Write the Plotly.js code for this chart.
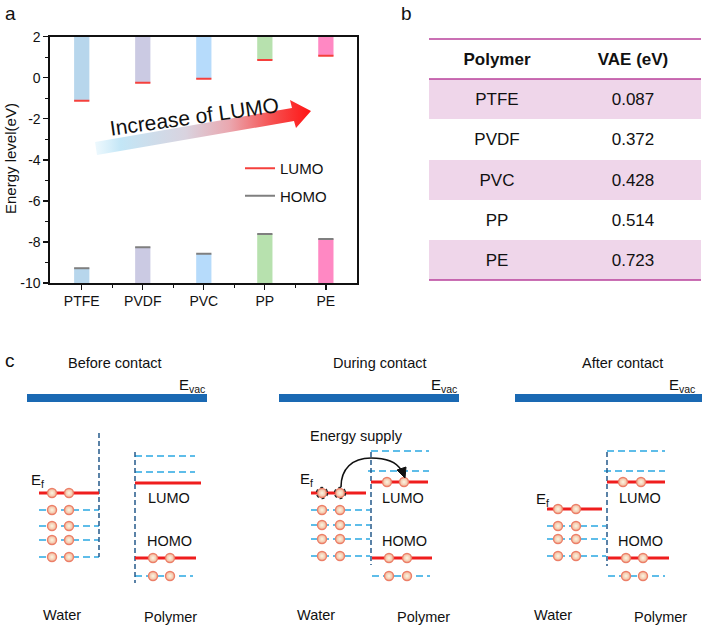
<!DOCTYPE html>
<html><head><meta charset="utf-8">
<script src="https://cdn.plot.ly/plotly-3.0.1.min.js"></script>
<style>html,body{margin:0;padding:0;background:#fff}#chart{width:702px;height:627px}</style>
</head><body><div id="chart"></div>
<script>
// ---------- DATA ----------
const categories = ['PTFE', 'PVDF', 'PVC', 'PP', 'PE'];
const lumo = [-1.12, -0.24, -0.05, 0.86, 1.07];
const homo = [-9.28, -8.26, -8.57, -7.61, -7.86];
const barColors = ['#b7d6ec', '#cbcae3', '#b6dbfb', '#b7e1ae', '#ff88c3'];
const yTickVals = [-10, -8, -6, -4, -2, 0, 2];
const yTickText = ['-10', '-8', '-6', '-4', '-2', '0', '2'];

const tableHeader = ['Polymer', 'VAE (eV)'];
const tablePolymers = ['PTFE', 'PVDF', 'PVC', 'PP', 'PE'];
const tableVAE = ['0.087', '0.372', '0.428', '0.514', '0.723'];

const stageTitles = ['Before contact', 'During contact', 'After contact'];

// ---------- SCHEMATIC GEOMETRY (pixel space of the figure) ----------
const W = 702, H = 627;
const FONT = 'Liberation Sans, Arial, sans-serif';
const px = v => v / W, py = v => 1 - v / H;

const titlePos = [[115, 363], [380, 363], [622, 363]];
const evacBars = [[27, 207], [279, 459], [515, 702]];
const evacLabel = [[207, 385], [459, 385], [697, 385]];
const efLabel = [[29, 480], [298, 479], [534, 499]];
const lumoLabel = [[169, 498], [403, 498], [640, 498]];
const homoLabel = [[169, 541], [404, 541], [640, 541]];
const waterLabel = [[62, 615], [316, 615], [553, 615]];
const polyLabel = [[170, 617], [423, 617], [660, 617]];
const redLines = [[39, 99, 493], [135, 201, 483], [135, 196, 558],
  [311, 366, 493], [371, 428, 482], [372, 432, 558],
  [547, 602, 509], [607, 665, 482], [608, 669, 558]];
const cyanLines = [[39, 99, 510], [39, 99, 526], [39, 99, 540], [39, 99, 557], [135, 195, 456], [135, 195, 472], [135, 193, 576],
  [311, 370, 510], [311, 370, 525], [311, 370, 539], [311, 370, 556], [371, 429, 451], [368, 429, 471], [372, 430, 576],
  [547, 606, 526], [547, 606, 539], [547, 606, 556], [607, 665, 451], [604, 665, 471], [608, 665, 576]];
const darkVert = [[99, 433, 557], [135, 452, 583], [371, 452, 565], [607, 452, 566]];
const electronRows = [[[52, 69], [493, 510, 526, 540, 557]], [[153, 170], [558, 576]],
  [[322, 340], [510, 525, 539, 556]], [[387, 404], [482]], [[389, 407], [558, 576]],
  [[558, 576], [509, 526, 539, 556]], [[623, 641], [482]], [[626, 643], [558, 576]]];
const holes = [[322, 493], [340, 493]];
const arrowPoly = [[95, 142], [292, 108], [290, 100], [311, 111], [296, 128], [294, 121], [97, 155], [95, 142]];

// ---------- BUILD ----------
const idx = categories.map((_, i) => i);
const bw = 0.25;
const traces = [];
traces.push({type: 'bar', x: idx, base: lumo, y: lumo.map(v => 2 - v), width: bw,
  marker: {color: barColors, line: {width: 0}}, showlegend: false, hoverinfo: 'skip'});
traces.push({type: 'bar', x: idx, base: homo.map(() => -10), y: homo.map(v => v + 10), width: bw,
  marker: {color: barColors, line: {width: 0}}, showlegend: false, hoverinfo: 'skip'});
function levelSegs(vals) {
  const xs = [], ys = [];
  vals.forEach((v, i) => { xs.push(i - bw / 2, i + bw / 2, null); ys.push(v, v, null); });
  return {xs, ys};
}
const ls = levelSegs(lumo), hs = levelSegs(homo);
traces.push({type: 'scatter', mode: 'lines', x: ls.xs, y: ls.ys, name: 'LUMO', legendgroup: 'l',
  line: {color: '#f5403c', width: 2}, hoverinfo: 'skip'});
traces.push({type: 'scatter', mode: 'lines', x: hs.xs, y: hs.ys, name: 'HOMO', legendgroup: 'h',
  line: {color: '#7f7f7f', width: 2}, hoverinfo: 'skip'});

// gradient arrow
traces.push({type: 'scatter', xaxis: 'x3', yaxis: 'y3', mode: 'lines', x: arrowPoly.map(p => p[0]), y: arrowPoly.map(p => p[1]),
  fill: 'toself', line: {width: 0, color: 'rgba(0,0,0,0)'},
  fillgradient: {type: 'horizontal', colorscale: [[0, 'rgba(205,236,250,0.35)'], [0.12, '#c3e6f6'], [0.42, '#d9d3df'], [0.62, '#eaa8b0'], [0.82, '#f65050'], [1, '#ff1414']]},
  showlegend: false, hoverinfo: 'skip'});

// table as a text heatmap (header row + data rows)
const pink = '#efd6ea';
const tableText = [tableHeader.map(h => '<b>' + h + '</b>')].concat(tablePolymers.map((p, i) => [p, tableVAE[i]]));
const tableZ = tableText.map((_, r) => r === 0 ? [0, 0] : (r % 2 === 1 ? [1, 1] : [0, 0]));
traces.push({type: 'heatmap', xaxis: 'x4', yaxis: 'y4', x: [0, 1], y: tableText.map((_, r) => r), z: tableZ,
  text: tableText, texttemplate: '%{text}', textfont: {family: FONT, size: 17, color: '#111'},
  colorscale: [[0, '#ffffff'], [1, pink]], zmin: 0, zmax: 1, showscale: false, hoverinfo: 'skip', xgap: 0, ygap: 0});

// schematic lines
function hSegs(list) { const x = [], y = []; list.forEach(([a, b, c]) => { x.push(a, b, null); y.push(c, c, null); }); return {x, y}; }
const rs = hSegs(redLines), cs = hSegs(cyanLines);
const dv = {x: [], y: []}; darkVert.forEach(([x, a, b]) => { dv.x.push(x, x, null); dv.y.push(a, b, null); });
traces.push({type: 'scatter', xaxis: 'x3', yaxis: 'y3', mode: 'lines', x: cs.x, y: cs.y, line: {color: '#2aa8e2', width: 1.6, dash: '7px,4px'}, showlegend: false, hoverinfo: 'skip'});
traces.push({type: 'scatter', xaxis: 'x3', yaxis: 'y3', mode: 'lines', x: dv.x, y: dv.y, line: {color: '#24598a', width: 1.5, dash: '5px,3px'}, showlegend: false, hoverinfo: 'skip'});
traces.push({type: 'scatter', xaxis: 'x3', yaxis: 'y3', mode: 'lines', x: rs.x, y: rs.y, line: {color: '#ef1d1d', width: 2.8}, showlegend: false, hoverinfo: 'skip'});
const ex = [], ey = [];
electronRows.forEach(([xs, ys]) => ys.forEach(y => xs.forEach(x => { ex.push(x); ey.push(y); })));
holes.forEach(([x, y]) => { ex.push(x); ey.push(y); });
traces.push({type: 'scatter', xaxis: 'x3', yaxis: 'y3', mode: 'markers', x: ex, y: ey,
  marker: {size: 9, color: '#f2b79a', gradient: {type: 'radial', color: '#fbf6e2'}, line: {color: '#ec7f68', width: 1.4}},
  showlegend: false, hoverinfo: 'skip'});

// ---------- LAYOUT ----------
const shapes = [];
evacBars.forEach(([a, b]) => shapes.push({type: 'rect', xref: 'x3', yref: 'y3', x0: a, x1: b, y0: 394, y1: 402, fillcolor: '#1a69b3', line: {width: 0}}));
holes.forEach(([x, y]) => shapes.push({type: 'circle', xref: 'x3', yref: 'y3', x0: x - 5.6, x1: x + 5.6, y0: y - 5.6, y1: y + 5.6, line: {color: '#222', width: 1.2, dash: 'dot'}}));
shapes.push({type: 'path', xref: 'x3', yref: 'y3', path: 'M 341,487 C 341,469 352,458 371,458 C 388,458 397,463 401,470', line: {color: '#111', width: 1.6}});
shapes.push({type: 'path', xref: 'x3', yref: 'y3', path: 'M 405,478 L 397,470 L 406,467 Z', fillcolor: '#111', line: {color: '#111', width: 1}});
[39, 79, 280].forEach(y => shapes.push({type: 'line', xref: 'x3', yref: 'y3', x0: 429, x1: 701, y0: y, y1: y, line: {color: '#b9419b', width: 1.6}}));

const ann = [];
function txt(x, y, t, size, opts) { ann.push(Object.assign({xref: 'x3', yref: 'y3', x, y, text: t, showarrow: false, font: {family: FONT, size, color: '#111'}}, opts || {})); }
txt(10, 13, 'a', 19); txt(406, 13, 'b', 19); txt(10, 360, 'c', 19);
txt(10, 159, 'Energy level(eV)', 15, {textangle: -90});
txt(194, 116, 'Increase of LUMO', 21, {textangle: -8});
stageTitles.forEach((t, i) => txt(titlePos[i][0], titlePos[i][1], t, 14.5));
evacLabel.forEach(([x, y]) => txt(x, y, 'E<sub>vac</sub>', 15, {xanchor: 'right'}));
efLabel.forEach(([x, y]) => txt(x, y, 'E<sub>f</sub>', 15, {xanchor: 'left'}));
lumoLabel.forEach(([x, y]) => txt(x, y, 'LUMO', 14.5));
homoLabel.forEach(([x, y]) => txt(x, y, 'HOMO', 14.5));
waterLabel.forEach(([x, y]) => txt(x, y, 'Water', 14.5));
polyLabel.forEach(([x, y]) => txt(x, y, 'Polymer', 14.5));
txt(356, 436, 'Energy supply', 14.5);

const layout = {
  width: W, height: H, margin: {l: 0, r: 0, t: 0, b: 0},
  paper_bgcolor: '#fff', plot_bgcolor: 'rgba(0,0,0,0)',
  font: {family: FONT, color: '#111'},
  barmode: 'overlay',
  xaxis: {domain: [px(50), px(357)], range: [-0.52, 4.51], tickvals: idx, ticktext: categories,
    ticks: 'outside', ticklen: 5, tickwidth: 1.3, tickcolor: '#111', showline: true, linecolor: '#111', linewidth: 1.6, mirror: true,
    showgrid: false, zeroline: false, tickfont: {size: 14, family: FONT, color: '#111'},
    minor: {tickvals: [0.5, 1.5, 2.5, 3.5], ticks: 'outside', ticklen: 3, tickcolor: '#111', tickwidth: 1.2}},
  yaxis: {domain: [py(283), py(36.7)], range: [-10, 2], tickvals: yTickVals, ticktext: yTickText,
    ticks: 'outside', ticklen: 5, tickwidth: 1.3, tickcolor: '#111', showline: true, linecolor: '#111', linewidth: 1.6, mirror: true,
    showgrid: false, zeroline: false, tickfont: {size: 14, family: FONT, color: '#111'},
    minor: {tickvals: [-9, -7, -5, -3, -1, 1], ticks: 'outside', ticklen: 3, tickcolor: '#111', tickwidth: 1.2}},
  xaxis3: {domain: [0, 1], range: [0, W], visible: false, anchor: 'y3', fixedrange: true},
  yaxis3: {domain: [0, 1], range: [H, 0], visible: false, anchor: 'x3', fixedrange: true},
  xaxis4: {domain: [px(429), px(701)], range: [-0.5, 1.5], visible: false, anchor: 'y4', fixedrange: true},
  yaxis4: {domain: [py(280), py(39)], range: [5.5, -0.5], visible: false, anchor: 'x4', fixedrange: true},
  legend: {x: px(240), y: py(152), xanchor: 'left', yanchor: 'top', bgcolor: 'rgba(0,0,0,0)',
    font: {size: 15, family: FONT, color: '#111'}, traceorder: 'grouped', tracegroupgap: 5},
  shapes, annotations: ann
};
Plotly.newPlot('chart', traces, layout, {staticPlot: true, displayModeBar: false});
</script></body></html>
